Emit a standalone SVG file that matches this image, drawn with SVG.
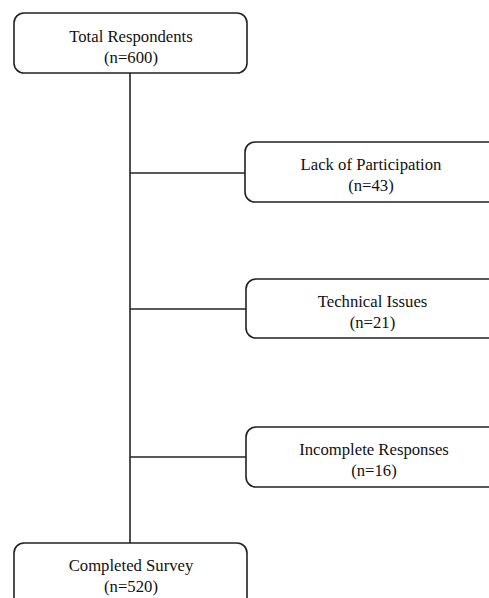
<svg xmlns="http://www.w3.org/2000/svg" width="489" height="598" viewBox="0 0 489 598">
<style>
.box{fill:#fff;stroke:#222;stroke-width:1.6}
.conn{stroke:#222;stroke-width:1.6;fill:none}
text{font-family:"Liberation Serif","Times New Roman",serif;font-size:16.7px;fill:#111;text-anchor:middle}
</style>
<rect width="489" height="598" fill="#fff"/>
<g id="connectors">
<line class="conn" x1="130" y1="73" x2="130" y2="543"/>
<line class="conn" x1="130" y1="173" x2="245" y2="173"/>
<line class="conn" x1="130" y1="309" x2="246" y2="309"/>
<line class="conn" x1="130" y1="457" x2="246" y2="457"/>
</g>
<g id="total">
<rect class="box" x="14" y="13" width="233" height="60" rx="10"/>
<text x="131" y="41.5">Total Respondents</text>
<text x="131" y="62.5">(n=600)</text>
</g>
<g id="lack">
<rect class="box" x="245" y="142" width="260" height="60" rx="10"/>
<text x="371" y="169.5">Lack of Participation</text>
<text x="371" y="190.5">(n=43)</text>
</g>
<g id="technical">
<rect class="box" x="246" y="279" width="260" height="59" rx="10"/>
<text x="372.5" y="306.5">Technical Issues</text>
<text x="372.5" y="327.5">(n=21)</text>
</g>
<g id="incomplete">
<rect class="box" x="246" y="427" width="260" height="60" rx="10"/>
<text x="374" y="455">Incomplete Responses</text>
<text x="374" y="476">(n=16)</text>
</g>
<g id="completed">
<rect class="box" x="14" y="543" width="233" height="70" rx="10"/>
<text x="131" y="571">Completed Survey</text>
<text x="131" y="592">(n=520)</text>
</g>
</svg>
